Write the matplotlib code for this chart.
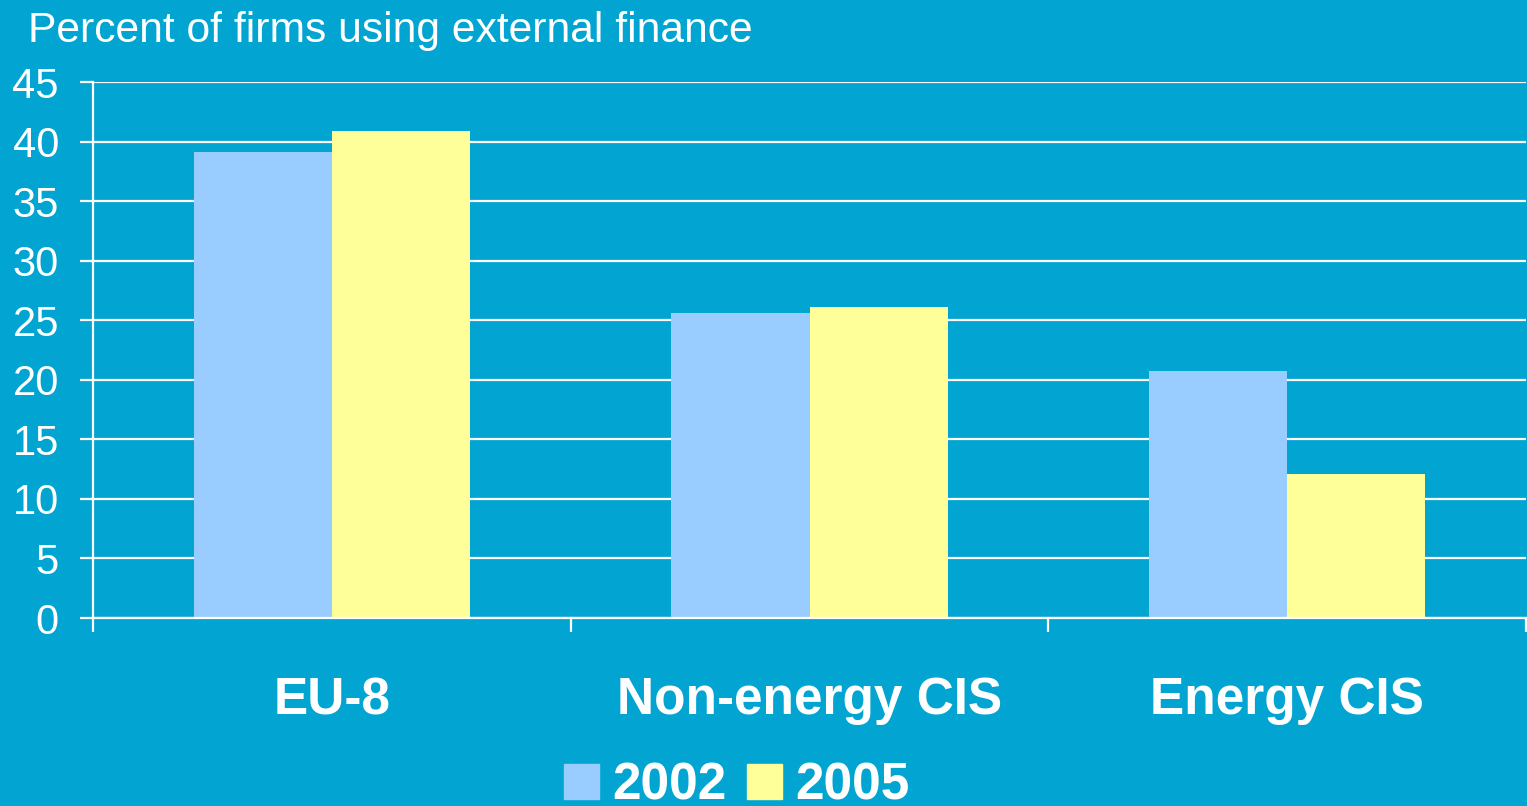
import numpy as np
import matplotlib.pyplot as plt
from matplotlib.patches import Patch

#%% data
kategorier = ["EU-8", "Non-energy CIS", "Energy CIS"]
verdier_2002 = [39.1, 25.6, 20.7]
verdier_2005 = [40.9, 26.1, 12.1]
aar = ["2002", "2005"]

bg = "#02A5D2"
farge_2002 = "#99CCFF"
farge_2005 = "#FFFF99"

plt.rcParams['font.family'] = ['Liberation Sans', 'DejaVu Sans']

#%% figur
fig = plt.figure(figsize=(15.27, 8.06), dpi=100, facecolor=bg)
ax = fig.add_axes([93/1527, 1-618/806, 1-93/1527-1/1527, (618-82)/806])
ax.set_facecolor(bg)

x = np.arange(len(kategorier)) + 0.5
b = 0.289
ax.bar(x - b/2, verdier_2002, b, color=farge_2002, zorder=3)
ax.bar(x + b/2, verdier_2005, b, color=farge_2005, zorder=3)

ax.set_xlim(0, 3)
ax.set_ylim(0, 45)
ax.set_yticks(range(0, 46, 5))
ax.yaxis.grid(True, color="white", lw=1.6, zorder=1)

for s in ["top", "right"]:
    ax.spines[s].set_visible(False)
for s in ["left", "bottom"]:
    ax.spines[s].set_color("white")
    ax.spines[s].set_linewidth(1.6)
    ax.spines[s].set_zorder(4)

ax.set_xticks([0, 1, 2, 3])
ax.set_xticklabels([])
ax.set_xticks(x, minor=True)
ax.set_xticklabels(kategorier, minor=True, fontsize=37, fontweight="bold", color="white")
ax.tick_params(axis="x", which="major", length=10, width=1.6, color="white")
ax.tick_params(axis="x", which="minor", length=0, pad=42)
ax.tick_params(axis="y", length=9.5, width=1.6, color="white", labelcolor="white",
               labelsize=30, pad=15)

fig.text(28/1527, 1-42/806, "Percent of firms using external finance", fontsize=30.7,
         color="white", ha="left", va="baseline")

handles = [Patch(color=farge_2002), Patch(color=farge_2005)]
leg = fig.legend(handles, aar, loc="lower center", bbox_to_anchor=(737/1527, -0.006),
                 ncol=2, frameon=False, fontsize=37, handlelength=0.68, handleheight=0.68,
                 handletextpad=0.26, columnspacing=0.4, borderpad=0, borderaxespad=0)
for t in leg.get_texts():
    t.set_color("white")
    t.set_fontweight("bold")

fig.savefig("out.png", dpi=100, facecolor=bg)
